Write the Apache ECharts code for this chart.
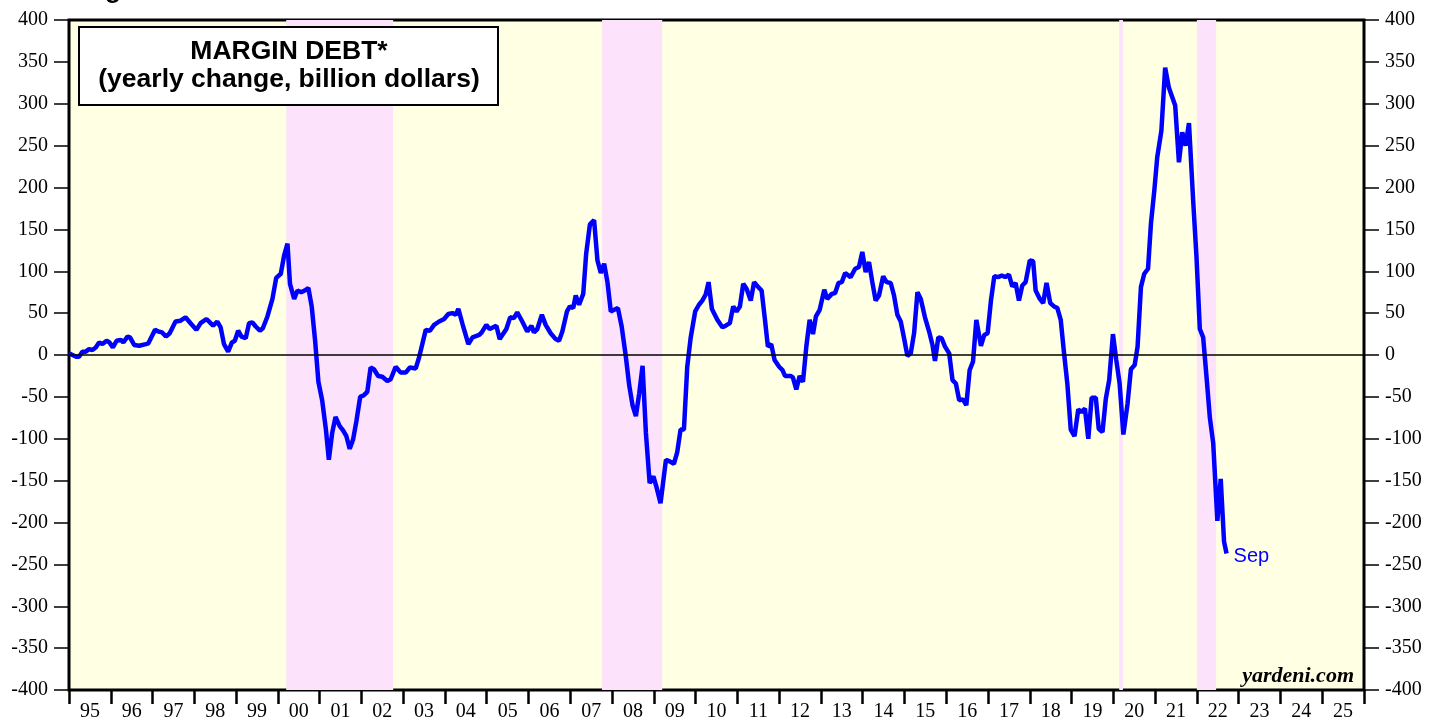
<!DOCTYPE html>
<html style="height: 100%">
<head>
<meta charset="utf-8">
<script src="https://cdn.jsdelivr.net/npm/echarts@6/dist/echarts.min.js"></script>
</head>
<body style="height: 100%; margin: 0; background: #fff">
<div id="container" style="width: 1430px; height: 721px;"></div>
<script type="text/javascript">
// years after Jan 1995 (decimal) and margin debt yearly change, billion $
var yr = [0.00, 0.17, 0.24, 0.32, 0.40, 0.48, 0.56, 0.64, 0.72, 0.80, 0.90, 0.97, 1.05, 1.14, 1.24, 1.30, 1.40, 1.46, 1.56, 1.68,
	1.84, 1.90, 1.98, 2.06, 2.14, 2.23, 2.32, 2.41, 2.47, 2.55, 2.67, 2.79, 2.91, 3.05, 3.15, 3.29, 3.39, 3.45, 3.55, 3.63,
	3.71, 3.81, 3.90, 3.97, 4.05, 4.13, 4.23, 4.31, 4.39, 4.47, 4.57, 4.64, 4.75, 4.87, 4.96, 5.07, 5.15, 5.23, 5.29, 5.39,
	5.47, 5.56, 5.64, 5.73, 5.81, 5.89, 5.97, 6.06, 6.15, 6.22, 6.30, 6.38, 6.48, 6.56, 6.64, 6.72, 6.80, 6.88, 6.97, 7.06,
	7.14, 7.22, 7.30, 7.40, 7.50, 7.62, 7.70, 7.82, 7.94, 8.06, 8.16, 8.30, 8.38, 8.54, 8.64, 8.74, 8.86, 8.98, 9.08, 9.18,
	9.26, 9.32, 9.42, 9.56, 9.66, 9.82, 9.88, 9.99, 10.07, 10.23, 10.31, 10.47, 10.56, 10.65, 10.73, 10.85, 10.97, 11.07, 11.13, 11.21,
	11.32, 11.41, 11.53, 11.65, 11.73, 11.81, 11.92, 11.99, 12.07, 12.13, 12.21, 12.31, 12.38, 12.47, 12.57, 12.65, 12.73, 12.81, 12.89, 12.97,
	13.05, 13.14, 13.23, 13.33, 13.41, 13.49, 13.57, 13.65, 13.73, 13.81, 13.90, 13.99, 14.07, 14.16, 14.29, 14.38, 14.48, 14.56, 14.64, 14.72,
	14.80, 14.88, 14.99, 15.08, 15.16, 15.24, 15.31, 15.39, 15.52, 15.64, 15.72, 15.82, 15.90, 15.98, 16.06, 16.14, 16.22, 16.32, 16.40, 16.50,
	16.58, 16.66, 16.73, 16.81, 16.89, 17.00, 17.08, 17.14, 17.28, 17.33, 17.41, 17.49, 17.57, 17.65, 17.73, 17.81, 17.88, 17.97, 18.08, 18.15,
	18.26, 18.34, 18.42, 18.50, 18.58, 18.71, 18.82, 18.91, 18.99, 19.07, 19.15, 19.23, 19.31, 19.39, 19.49, 19.57, 19.67, 19.75, 19.83, 19.91,
	19.99, 20.07, 20.15, 20.23, 20.31, 20.39, 20.49, 20.59, 20.67, 20.73, 20.81, 20.89, 20.97, 21.07, 21.15, 21.23, 21.31, 21.40, 21.48, 21.56,
	21.64, 21.72, 21.83, 21.91, 21.99, 22.07, 22.15, 22.25, 22.33, 22.41, 22.50, 22.58, 22.66, 22.74, 22.82, 22.90, 23.00, 23.08, 23.14, 23.24,
	23.32, 23.40, 23.49, 23.58, 23.66, 23.74, 23.82, 23.90, 23.98, 24.07, 24.16, 24.23, 24.32, 24.40, 24.48, 24.58, 24.65, 24.74, 24.82, 24.90,
	24.99, 25.07, 25.15, 25.24, 25.34, 25.42, 25.51, 25.58, 25.66, 25.74, 25.83, 25.90, 25.98, 26.05, 26.15, 26.24, 26.33, 26.48, 26.57, 26.65,
	26.73, 26.81, 26.91, 26.99, 27.07, 27.15, 27.23, 27.31, 27.39, 27.49, 27.57, 27.65, 27.71];
var debt = [2, -2, -2, 4, 4, 7, 6, 9, 15, 13, 17, 15, 9, 17, 18, 15, 22, 21, 12, 11,
	13, 14, 22, 30, 28, 27, 22, 26, 32, 40, 41, 45, 38, 30, 38, 43, 38, 35, 40, 33,
	13, 4, 15, 17, 29, 22, 20, 38, 39, 34, 29, 32, 46, 67, 92, 97, 119, 133, 85, 67,
	77, 75, 77, 80, 58, 18, -32, -54, -89, -125, -93, -74, -85, -90, -97, -112, -101, -79, -50, -48,
	-44, -15, -17, -25, -26, -31, -29, -14, -21, -21, -15, -16, -3, 30, 29, 36, 40, 43, 49, 50,
	48, 55, 37, 13, 21, 24, 27, 36, 31, 35, 19, 31, 45, 44, 51, 40, 28, 35, 27, 31,
	48, 36, 26, 19, 17, 28, 52, 58, 56, 71, 60, 73, 121, 156, 161, 113, 98, 109, 87, 52,
	54, 56, 34, -2, -36, -60, -73, -46, -13, -93, -153, -145, -159, -177, -125, -127, -130, -116, -89, -89,
	-14, 20, 52, 60, 65, 72, 87, 55, 42, 33, 35, 38, 58, 52, 58, 85, 79, 65, 87, 81,
	77, 42, 10, 13, -6, -14, -18, -25, -25, -27, -41, -25, -32, 10, 42, 25, 46, 54, 78, 67,
	73, 74, 86, 87, 98, 93, 103, 105, 123, 99, 111, 87, 65, 71, 94, 87, 86, 71, 48, 40,
	20, -1, 2, 26, 75, 67, 45, 28, 12, -7, 21, 20, 10, 2, -30, -34, -54, -53, -60, -18,
	-8, 42, 11, 24, 26, 65, 94, 93, 95, 93, 96, 82, 86, 65, 83, 87, 113, 112, 77, 67,
	62, 86, 62, 58, 56, 42, 2, -35, -89, -97, -65, -68, -64, -100, -51, -51, -88, -92, -52, -30,
	25, -6, -34, -95, -58, -17, -12, 10, 81, 97, 103, 157, 196, 236, 268, 343, 319, 298, 230, 266,
	250, 277, 185, 117, 31, 21, -26, -75, -105, -198, -148, -223, -237];
// bear market shading, years after Jan 1995
var bearStart = [5.20, 12.76, 25.14, 27.00];
var bearEnd = [7.76, 14.20, 25.23, 27.46];
var yearLabels = ['95', '96', '97', '98', '99', '00', '01', '02', '03', '04', '05', '06', '07', '08', '09', '10',
	'11', '12', '13', '14', '15', '16', '17', '18', '19', '20', '21', '22', '23', '24', '25'];

var dom = document.getElementById("container");
var myChart = echarts.init(dom, null, { renderer: 'canvas' });

var lineData = [];
for (var i = 0; i < yr.length; i++) {
	lineData.push([yr[i], debt[i]]);
}
var bears = [];
for (var j = 0; j < bearStart.length; j++) {
	bears.push([{ xAxis: bearStart[j] }, { xAxis: bearEnd[j] }]);
}

var yAxisStyle = {
	type: 'value',
	min: -400,
	max: 400,
	interval: 50,
	axisLine: { show: false, onZero: false },
	axisTick: { show: true, length: 15, lineStyle: { color: '#000', width: 1.5 } },
	axisLabel: { color: '#000', fontFamily: 'Liberation Serif', fontSize: 20, margin: 21 },
	splitLine: { show: false }
};

var option = {
	animation: false,
	grid: {
		left: 69, right: 66, top: 20, bottom: 31,
		containLabel: false,
		outerBoundsMode: 'none',
		show: true,
		backgroundColor: '#FFFFE3',
		borderColor: '#000',
		borderWidth: 3
	},
	xAxis: [{
		type: 'value',
		min: 0,
		max: 31,
		interval: 1,
		position: 'bottom',
		axisLine: { show: false, onZero: false },
		axisTick: { show: true, length: 14, lineStyle: { color: '#000', width: 2.5 } },
		axisLabel: { show: false },
		splitLine: { show: false }
	}, {
		type: 'category',
		data: yearLabels,
		position: 'bottom',
		boundaryGap: true,
		axisLine: { show: false, onZero: false },
		axisTick: { show: false },
		axisLabel: { interval: 0, color: '#000', fontFamily: 'Liberation Serif', fontSize: 20, margin: 12 }
	}],
	yAxis: [
		Object.assign({ position: 'left' }, yAxisStyle),
		Object.assign({ position: 'right' }, yAxisStyle)
	],
	graphic: [{
		type: 'text',
		left: 82,
		top: -22,
		style: { text: 'Figure 3.', font: 'bold 26px "Liberation Sans"', fill: '#000' }
	}, {
		type: 'rect',
		shape: { x: 79, y: 27, width: 419, height: 78 },
		style: { fill: '#fff', stroke: '#000', lineWidth: 2 },
		z: 100
	}, {
		type: 'text',
		x: 289,
		y: 52,
		z: 101,
		style: {
			text: 'MARGIN DEBT*', font: 'bold 26.5px "Liberation Sans"', fill: '#000',
			align: 'center', verticalAlign: 'middle'
		}
	}, {
		type: 'text',
		x: 289,
		y: 80,
		z: 101,
		style: {
			text: '(yearly change, billion dollars)', font: 'bold 26.5px "Liberation Sans"', fill: '#000',
			align: 'center', verticalAlign: 'middle'
		}
	}, {
		type: 'text',
		x: 1354,
		y: 676,
		z: 101,
		style: {
			text: 'yardeni.com', font: 'italic bold 22px "Liberation Serif"', fill: '#000',
			align: 'right', verticalAlign: 'middle'
		}
	}],
	series: [{
		name: 'Margin Debt',
		type: 'line',
		xAxisIndex: 0,
		yAxisIndex: 0,
		data: lineData,
		showSymbol: false,
		lineStyle: { color: '#0000FF', width: 4.5 },
		itemStyle: { color: '#0000FF' },
		endLabel: {
			show: true,
			formatter: 'Sep',
			color: '#0000FF',
			fontFamily: 'Liberation Sans',
			fontSize: 20,
			distance: 7,
			offset: [0, 3]
		},
		markLine: {
			silent: true,
			symbol: 'none',
			label: { show: false },
			lineStyle: { color: '#000', width: 1.5, type: 'solid' },
			data: [{ yAxis: 0 }]
		},
		markArea: {
			silent: true,
			itemStyle: { color: '#FCE3FB' },
			data: bears
		}
	}]
};

if (option && typeof option === "object") {
	myChart.setOption(option, true);
}
</script>
</body>
</html>
